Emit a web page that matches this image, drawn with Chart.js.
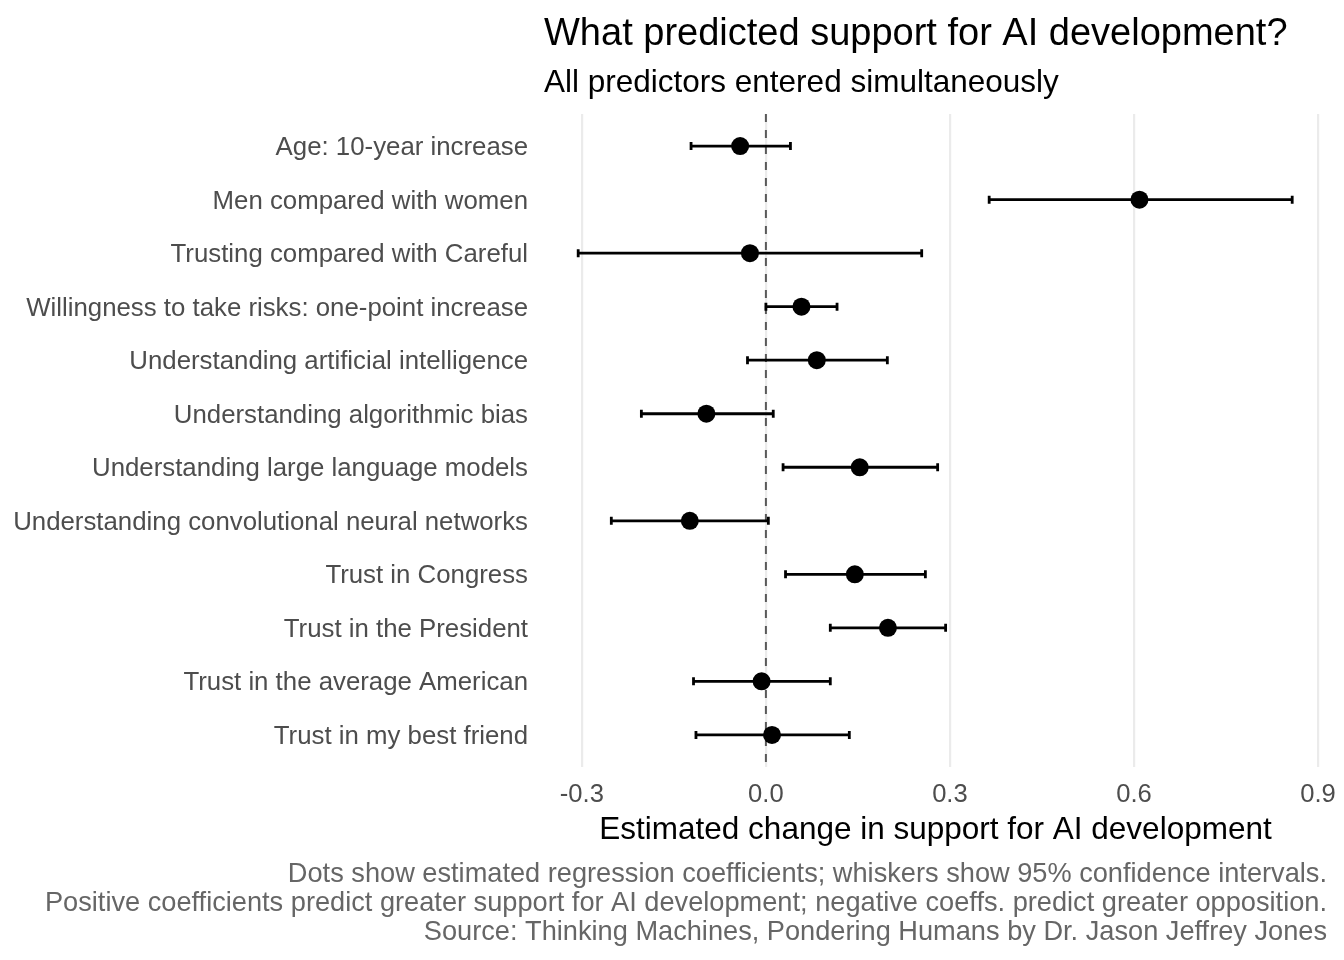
<!DOCTYPE html>
<html>
<head>
<meta charset="utf-8">
<script src="https://cdn.jsdelivr.net/npm/chart.js@4"></script>
<style>
  html, body { margin: 0; padding: 0; background: #fff; }
  #wrap { width: 1344px; height: 960px; }
</style>
</head>
<body>
<div id="wrap"><canvas id="chart" width="1344" height="960"></canvas></div>
<script>
// Predictors, top to bottom
const predictors = [
    "Age: 10-year increase",
    "Men compared with women",
    "Trusting compared with Careful",
    "Willingness to take risks: one-point increase",
    "Understanding artificial intelligence",
    "Understanding algorithmic bias",
    "Understanding large language models",
    "Understanding convolutional neural networks",
    "Trust in Congress",
    "Trust in the President",
    "Trust in the average American",
    "Trust in my best friend"
];
// Regression coefficients and 95% CI bounds
const estimates = [-0.042, 0.609, -0.026, 0.058, 0.083, -0.097, 0.153, -0.124, 0.145, 0.199, -0.007, 0.010];
const lowerCI   = [-0.122, 0.364, -0.306, 0.000, -0.030, -0.203, 0.028, -0.252, 0.032, 0.105, -0.118, -0.114];
const upperCI   = [ 0.040, 0.858,  0.254, 0.116,  0.198,  0.012, 0.280,  0.004, 0.260, 0.293,  0.105,  0.136];
const xTicks = [-0.3, 0.0, 0.3, 0.6, 0.9];

const titleText = "What predicted support for AI development?";
const subtitleText = "All predictors entered simultaneously";
const xTitleText = "Estimated change in support for AI development";
const captionLines = [
    "Dots show estimated regression coefficients; whiskers show 95% confidence intervals.",
    "Positive coefficients predict greater support for AI development; negative coeffs. predict greater opposition.",
    "Source: Thinking Machines, Pondering Humans by Dr. Jason Jeffrey Jones"
];

const FONT = "'Liberation Sans', Arial, sans-serif";

// zero line + whiskers under the dots, titles and caption on top
const forestPlugin = {
    id: "forest",
    beforeDatasetsDraw(chart) {
        const { ctx, chartArea, scales } = chart;
        const x = scales.x, y = scales.y;

        ctx.save();
        ctx.strokeStyle = "#595959";
        ctx.lineWidth = 2;
        ctx.setLineDash([8, 8]);
        const x0 = x.getPixelForValue(0);
        ctx.beginPath();
        ctx.moveTo(x0, chartArea.top);
        ctx.lineTo(x0, chartArea.bottom);
        ctx.stroke();
        ctx.restore();

        ctx.save();
        ctx.strokeStyle = "#000";
        ctx.lineWidth = 2.8;
        const cap = 4;
        predictors.forEach((p, i) => {
            const yp = y.getPixelForValue(i + 1);
            const xl = x.getPixelForValue(lowerCI[i]);
            const xr = x.getPixelForValue(upperCI[i]);
            ctx.beginPath();
            ctx.moveTo(xl, yp);
            ctx.lineTo(xr, yp);
            ctx.moveTo(xl, yp - cap);
            ctx.lineTo(xl, yp + cap);
            ctx.moveTo(xr, yp - cap);
            ctx.lineTo(xr, yp + cap);
            ctx.stroke();
        });
        ctx.restore();
    },
    afterDraw(chart) {
        const { ctx, chartArea } = chart;
        ctx.save();
        ctx.textBaseline = "alphabetic";
        ctx.fillStyle = "#000";
        ctx.textAlign = "left";
        ctx.font = "38px " + FONT;
        ctx.fillText(titleText, chartArea.left + 2, 45);
        ctx.font = "31.5px " + FONT;
        ctx.fillText(subtitleText, chartArea.left + 2, 92);

        ctx.fillStyle = "#666666";
        ctx.textAlign = "right";
        ctx.font = "27.2px " + FONT;
        captionLines.forEach((line, i) => {
            ctx.fillText(line, 1327, 882 + i * 29);
        });
        ctx.restore();
    }
};

new Chart(document.getElementById("chart"), {
    type: "scatter",
    data: {
        datasets: [{
            data: estimates.map((v, i) => ({ x: v, y: i + 1 })),
            pointRadius: 9,
            pointHoverRadius: 9,
            pointBackgroundColor: "#000",
            pointBorderWidth: 0
        }]
    },
    options: {
        responsive: false,
        animation: false,
        layout: { padding: { top: 114, right: 15, left: 0, bottom: 0 } },
        plugins: {
            legend: { display: false },
            tooltip: { enabled: false }
        },
        scales: {
            x: {
                type: "linear",
                min: -0.365,
                max: 0.918,
                afterBuildTicks: (scale) => { scale.ticks = xTicks.map(v => ({ value: v })); },
                afterFit: (scale) => {
                    scale.height = 193;
                    scale.paddingLeft = 0;
                    scale.paddingRight = 0;
                },
                ticks: {
                    callback: (v) => v.toFixed(1),
                    color: "#4d4d4d",
                    font: { family: FONT, size: 25.6 },
                    padding: 13,
                    maxRotation: 0
                },
                grid: { color: "#ebebeb", lineWidth: 2.2, drawTicks: false },
                border: { display: false },
                title: {
                    display: true,
                    text: xTitleText,
                    color: "#000",
                    font: { family: FONT, size: 31.5 },
                    padding: { top: 0, bottom: 111 }
                }
            },
            y: {
                type: "linear",
                reverse: true,
                min: 0.4,
                max: 12.6,
                afterBuildTicks: (scale) => { scale.ticks = predictors.map((p, i) => ({ value: i + 1 })); },
                afterFit: (scale) => { scale.width = 542; },
                ticks: {
                    callback: (v) => predictors[v - 1],
                    color: "#4d4d4d",
                    font: { family: FONT, size: 25.8 },
                    padding: 14,
                    labelOffset: 2
                },
                grid: { display: false, drawTicks: false },
                border: { display: false }
            }
        }
    },
    plugins: [forestPlugin]
});
</script>
</body>
</html>
